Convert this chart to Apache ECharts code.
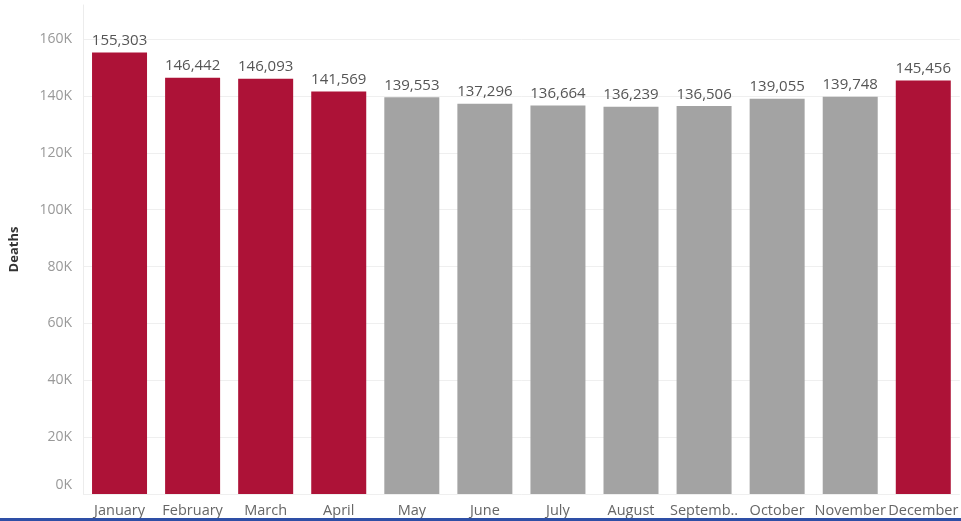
<!DOCTYPE html>
<html>
<head>
<meta charset="utf-8">
<title>Deaths by month</title>
<script src="https://cdn.jsdelivr.net/npm/echarts@6/dist/echarts.min.js"></script>
<style>
  html, body { margin: 0; padding: 0; background: #ffffff; }
  #chart { width: 961px; height: 521px; }
  #edge { position: absolute; left: 0; bottom: 0; width: 961px; height: 3px; background: #2e4fa6; }
</style>
</head>
<body>
<div id="chart"></div>
<div id="edge"></div>
<script>
// Monthly deaths
const months = ['January', 'February', 'March', 'April', 'May', 'June', 'July',
                'August', 'September', 'October', 'November', 'December'];
const deaths = [155303, 146442, 146093, 141569, 139553, 137296, 136664,
                136239, 136506, 139055, 139748, 145456];
// Months with higher mortality are highlighted
const highlighted = [true, true, true, true, false, false, false,
                     false, false, false, false, true];
const yTicks = [0, 20000, 40000, 60000, 80000, 100000, 120000, 140000, 160000];

const RED = '#ad1237';
const GREY = '#a3a3a3';
const FONT = '"Open Sans", "Noto Sans", sans-serif';

const chart = echarts.init(document.getElementById('chart'), null, { renderer: 'canvas' });

const yMax = 172000;
// last split line sits at the axis top and stays hidden
const gridColors = yTicks.map(() => '#efefef').concat(['rgba(0,0,0,0)']);

chart.setOption({
  animation: false,
  grid: { left: 79, right: -3, top: 5, bottom: 27, containLabel: false },
  xAxis: {
    type: 'category',
    data: months,
    axisLine: { show: false },
    axisTick: { show: false },
    axisLabel: {
      color: '#666666',
      fontFamily: FONT,
      fontSize: 14.5,
      margin: 9,
      interval: 0,
      formatter: m => (m.length > 8 ? m.slice(0, 7) + '..' : m)
    }
  },
  yAxis: {
    type: 'value',
    min: 0,
    max: yMax,
    interval: 20000,
    name: 'Deaths',
    nameLocation: 'middle',
    nameGap: 62,
    nameRotate: 90,
    nameTextStyle: { color: '#333333', fontFamily: FONT, fontSize: 13, fontWeight: 'bold' },
    axisLine: { show: true, lineStyle: { color: '#ececec', width: 1 } },
    axisTick: { show: false },
    splitLine: { show: true, lineStyle: { color: gridColors, width: 1 } },
    axisLabel: {
      color: '#999999',
      fontFamily: FONT,
      fontSize: 14,
      margin: 11,
      formatter: v => {
        if (yTicks.indexOf(v) < 0) return '';
        const txt = (v / 1000) + 'K';
        return v === 0 ? '{base|' + txt + '}' : txt;
      },
      rich: {
        base: { color: '#999999', fontFamily: FONT, fontSize: 14, padding: [0, 0, 18, 0] }
      }
    }
  },
  series: [{
    type: 'bar',
    barWidth: 55,
    data: deaths.map((v, i) => ({
      value: v,
      itemStyle: { color: highlighted[i] ? RED : GREY }
    })),
    label: {
      show: true,
      position: 'top',
      distance: 4,
      color: '#555555',
      fontFamily: FONT,
      fontSize: 15,
      formatter: p => p.value.toLocaleString('en-US')
    }
  }]
});
</script>
</body>
</html>
